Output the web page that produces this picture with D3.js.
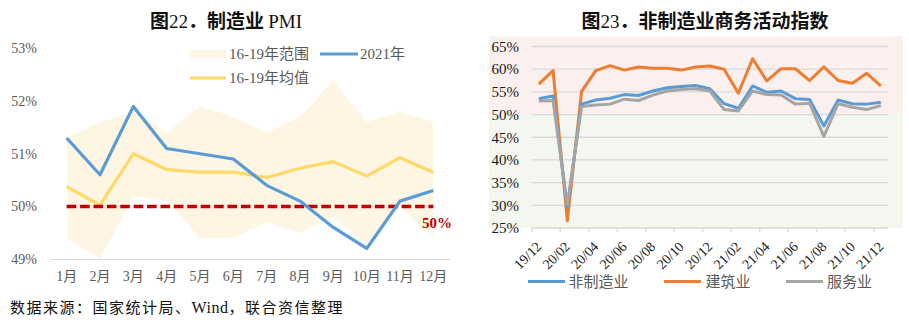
<!DOCTYPE html>
<html>
<head>
<meta charset="utf-8">
<script src="https://cdn.jsdelivr.net/npm/d3@7"></script>
<style>
  html, body { margin: 0; padding: 0; background: #ffffff; }
  svg { display: block; }
</style>
</head>
<body>
<svg id="chart" width="909" height="326"></svg>
<script>
// ---- Manufacturing PMI (left panel) ----
const months = ["1月","2月","3月","4月","5月","6月","7月","8月","9月","10月","11月","12月"];
const pmi2021 = [51.3, 50.6, 51.9, 51.1, 51.0, 50.9, 50.4, 50.1, 49.6, 49.2, 50.1, 50.3];
const pmiAvg1619 = [50.375, 50.025, 51.0, 50.7, 50.65, 50.65, 50.55, 50.725, 50.85, 50.575, 50.925, 50.65];
const pmiMax1619 = [51.3, 51.6, 51.8, 51.4, 51.9, 51.7, 51.4, 51.7, 52.4, 51.6, 51.8, 51.6];
const pmiMin1619 = [49.4, 49.0, 50.2, 50.1, 49.4, 49.4, 49.7, 49.5, 49.8, 49.3, 50.0, 49.4];
const pmiTicks = [49, 50, 51, 52, 53];
const threshold = 50;

// ---- Non-manufacturing business activity (right panel) ----
const periods = ["19/12","20/01","20/02","20/03","20/04","20/05","20/06","20/07","20/08","20/09","20/10","20/11","20/12",
                 "21/01","21/02","21/03","21/04","21/05","21/06","21/07","21/08","21/09","21/10","21/11","21/12"];
const nonMfg = [53.5, 54.1, 29.6, 52.3, 53.2, 53.6, 54.4, 54.2, 55.2, 55.9, 56.2, 56.4, 55.7,
                52.4, 51.4, 56.3, 54.9, 55.2, 53.5, 53.3, 47.5, 53.2, 52.4, 52.3, 52.7];
const construction = [56.7, 59.7, 26.6, 55.1, 59.7, 60.8, 59.8, 60.5, 60.2, 60.2, 59.8, 60.5, 60.7,
                      60.0, 54.7, 62.3, 57.4, 60.1, 60.1, 57.5, 60.5, 57.5, 56.9, 59.1, 56.3];
const services = [53.0, 53.1, 30.1, 51.8, 52.1, 52.3, 53.4, 53.1, 54.3, 55.2, 55.5, 55.7, 55.2,
                  51.1, 50.8, 55.2, 54.4, 54.3, 52.3, 52.5, 45.2, 52.4, 51.6, 51.1, 52.0];
const nmTicks = [25, 30, 35, 40, 45, 50, 55, 60, 65];
const nmSeriesNames = ["非制造业", "建筑业", "服务业"];

const SERIF = "'Liberation Serif', 'Times New Roman', 'Noto Sans CJK SC', serif";
const CJK = "'Noto Sans CJK SC', 'Liberation Serif', sans-serif";

const svg = d3.select("#chart");

// =========================== Left panel ===========================
const L = svg.append("g");
const xL = d3.scaleBand().domain(months).range([50, 450]);
const yL = d3.scaleLinear().domain([49, 53]).range([259, 48.5]);
const cxL = m => xL(m) + xL.bandwidth() / 2;

// title
const tL = L.append("text").attr("x", 226).attr("y", 28).attr("text-anchor", "middle")
  .attr("font-size", 19).attr("fill", "#111");
tL.append("tspan").attr("font-family", CJK).attr("font-weight", "bold").text("图");
tL.append("tspan").attr("font-family", SERIF).text("22");
tL.append("tspan").attr("font-family", CJK).attr("font-weight", "bold").text("．制造业 ");
tL.append("tspan").attr("font-family", SERIF).text("PMI");

// 2016-2019 range band
const rangeData = months.map((m, i) => ({ m, lo: pmiMin1619[i], hi: pmiMax1619[i] }));
L.append("path").datum(rangeData)
  .attr("fill", "#FEF5E3")
  .attr("d", d3.area().x(d => cxL(d.m)).y0(d => yL(d.lo)).y1(d => yL(d.hi)));

// bottom axis
const axL = d3.axisBottom(xL).tickSize(0).tickPadding(12);
const gxL = L.append("g").attr("transform", `translate(0,${yL(49)})`).call(axL);
gxL.select(".domain").attr("stroke", "#D9D9D9").attr("stroke-width", 1.2);
gxL.selectAll("text").attr("font-family", SERIF).attr("font-size", 14).attr("fill", "#595959");

// y labels
L.append("g").selectAll("text").data(pmiTicks).join("text")
  .attr("x", 37).attr("y", d => yL(d)).attr("dy", "0.35em")
  .attr("text-anchor", "end").attr("font-family", SERIF).attr("font-size", 14)
  .attr("fill", "#595959").text(d => d + "%");

const lineL = d3.line().x((d, i) => cxL(months[i])).y(d => yL(d));

// 2016-2019 average
L.append("path").datum(pmiAvg1619).attr("fill", "none")
  .attr("stroke", "#FFD966").attr("stroke-width", 3.2).attr("stroke-linejoin", "round")
  .attr("d", lineL);

// 50% threshold
L.append("path").datum(months.map(() => threshold)).attr("fill", "none")
  .attr("stroke", "#C00000").attr("stroke-width", 3.5).attr("stroke-dasharray", "9.6,3.8")
  .attr("d", lineL);
L.append("text").attr("x", 452).attr("y", yL(threshold) + 16).attr("dy", "0.35em")
  .attr("text-anchor", "end").attr("font-family", SERIF).attr("font-weight", "bold")
  .attr("font-size", 15).attr("fill", "#C00000").text(threshold + "%");

// 2021
L.append("path").datum(pmi2021).attr("fill", "none")
  .attr("stroke", "#5B9BD5").attr("stroke-width", 3.2).attr("stroke-linejoin", "round")
  .attr("d", lineL);

// legend
const legL = L.append("g").attr("font-family", SERIF).attr("font-size", 15).attr("fill", "#595959");
legL.append("rect").attr("x", 190).attr("y", 50).attr("width", 36).attr("height", 8).attr("fill", "#FEF5E3");
legL.append("text").attr("x", 229).attr("y", 54).attr("dy", "0.35em").text("16-19年范围");
legL.append("line").attr("x1", 320).attr("x2", 358).attr("y1", 54).attr("y2", 54)
  .attr("stroke", "#5B9BD5").attr("stroke-width", 3.2);
legL.append("text").attr("x", 360).attr("y", 54).attr("dy", "0.35em").text("2021年");
legL.append("line").attr("x1", 190).attr("x2", 226).attr("y1", 78).attr("y2", 78)
  .attr("stroke", "#FFD966").attr("stroke-width", 3.2);
legL.append("text").attr("x", 229).attr("y", 78).attr("dy", "0.35em").text("16-19年均值");

// source note
const src = svg.append("text").attr("x", 10).attr("y", 308).attr("dy", "0.35em")
  .attr("font-family", CJK).attr("font-size", 15).attr("letter-spacing", 1.5).attr("fill", "#111");
src.append("tspan").text("数据来源：国家统计局、");
src.append("tspan").attr("font-family", SERIF).attr("font-size", 16).attr("letter-spacing", 0.5).text("Wind");
src.append("tspan").text("，联合资信整理");

// =========================== Right panel ===========================
const R = svg.append("g");
const xR = d3.scaleBand().domain(periods).range([531.7, 888]);
const yR = d3.scaleLinear().domain([25, 65]).range([228, 46.5]);
const cxR = p => xR(p) + xR.bandwidth() / 2;

// title
const tR = R.append("text").attr("x", 705).attr("y", 28).attr("text-anchor", "middle")
  .attr("font-size", 19).attr("fill", "#111");
tR.append("tspan").attr("font-family", CJK).attr("font-weight", "bold").text("图");
tR.append("tspan").attr("font-family", SERIF).text("23");
tR.append("tspan").attr("font-family", CJK).attr("font-weight", "bold").text("．非制造业商务活动指数");

// expansion / contraction backgrounds
R.append("rect").attr("x", 489).attr("y", 36.5).attr("width", 414).attr("height", yR(50) - 36.5)
  .attr("fill", "#FCF0EE");
R.append("rect").attr("x", 489).attr("y", yR(50)).attr("width", 414).attr("height", yR(25) - yR(50))
  .attr("fill", "#F4F7F0");

// gridlines
R.append("g").selectAll("line").data(nmTicks.slice(1)).join("line")
  .attr("x1", 531.7).attr("x2", 888).attr("y1", d => yR(d)).attr("y2", d => yR(d))
  .attr("stroke", "#D9D9D9").attr("stroke-width", 1.3);

// y labels
R.append("g").selectAll("text").data(nmTicks).join("text")
  .attr("x", 519).attr("y", d => yR(d)).attr("dy", "0.35em")
  .attr("text-anchor", "end").attr("font-family", SERIF).attr("font-size", 15)
  .attr("fill", "#1a1a1a").text(d => d + "%");

// x axis: ticks on category boundaries every two months
const gxR = R.append("g").attr("transform", `translate(0,${yR(25)})`);
gxR.append("line").attr("x1", 531.7).attr("x2", 888).attr("stroke", "#D9D9D9").attr("stroke-width", 1.3);
const boundaryIdx = d3.range(0, periods.length, 2);
gxR.selectAll("line.tk").data(boundaryIdx).join("line").attr("class", "tk")
  .attr("x1", i => xR(periods[i])).attr("x2", i => xR(periods[i]))
  .attr("y1", 0).attr("y2", 4).attr("stroke", "#D9D9D9").attr("stroke-width", 1.3);
gxR.selectAll("text").data(boundaryIdx).join("text")
  .attr("transform", i => `translate(${cxR(periods[i])},16) rotate(-45)`)
  .attr("dy", "0.35em").attr("text-anchor", "end")
  .attr("font-family", SERIF).attr("font-size", 14).attr("fill", "#1a1a1a")
  .text(i => periods[i]);

// series lines
const lineR = d3.line().x((d, i) => cxR(periods[i])).y(d => yR(d));
const nmColors = ["#5B9BD5", "#ED7D31", "#A5A5A5"];
const nmData = [nonMfg, construction, services];
[1, 0, 2].forEach(k => {
  R.append("path").datum(nmData[k]).attr("fill", "none")
    .attr("stroke", nmColors[k]).attr("stroke-width", 3).attr("stroke-linejoin", "round")
    .attr("d", lineR);
});

// legend
const legR = R.append("g").attr("font-family", CJK).attr("font-size", 15).attr("fill", "#595959");
const legPos = [{ x: 528, t: 568.5 }, { x: 664, t: 705.5 }, { x: 786, t: 827 }];
nmSeriesNames.forEach((name, k) => {
  legR.append("line").attr("x1", legPos[k].x).attr("x2", legPos[k].x + 37)
    .attr("y1", 281.5).attr("y2", 281.5).attr("stroke", nmColors[k]).attr("stroke-width", 3);
  legR.append("text").attr("x", legPos[k].t).attr("y", 281.5).attr("dy", "0.35em").text(name);
});
</script>
</body>
</html>
